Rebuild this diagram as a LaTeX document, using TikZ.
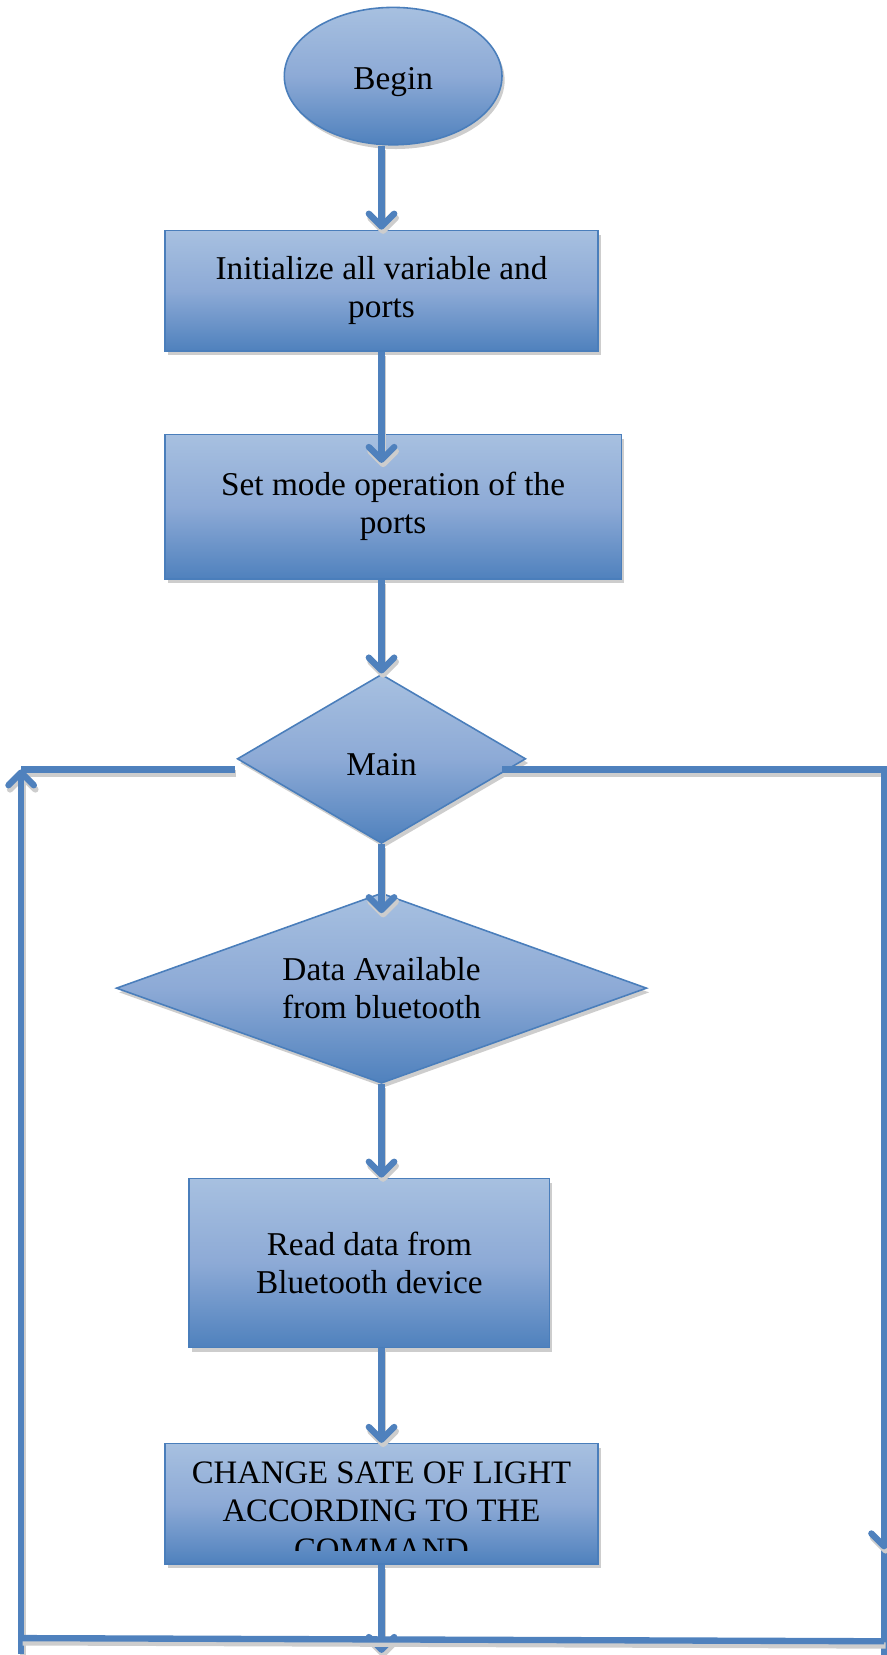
\documentclass[tikz,border=0pt]{standalone}
\usepackage{fontspec}
\setmainfont{Liberation Serif}
\usetikzlibrary{shapes.geometric,arrows.meta,shadows}
\definecolor{lineblue}{HTML}{4F81BD}
\definecolor{edgeblue}{HTML}{4A7EBB}
\definecolor{topblue}{HTML}{A7C0E0}
\definecolor{midblue}{HTML}{8DAAD6}
\definecolor{botblue}{HTML}{4F81BD}
\definecolor{shadowgray}{HTML}{CDCDCD}
\begin{document}
\begin{tikzpicture}[x=1pt,y=-1pt,
  txt/.style={font=\fontsize{31.5}{36}\selectfont, text=black, align=center,
    execute at begin node={\rule{0pt}{32pt}}},
  fillshade/.style={draw=edgeblue, line width=1.5pt, top color=topblue, bottom color=botblue, middle color=midblue,
    drop shadow={shadow xshift=2.5pt, shadow yshift=-4pt, fill=shadowgray, opacity=1}, inner sep=0pt},
  procbox/.style={fillshade, rectangle, txt},
  decbox/.style={fillshade, diamond, txt},
  termbox/.style={fillshade, ellipse, txt},
  flow/.style={draw=lineblue, line width=6pt,
    preaction={draw=shadowgray, line width=6pt, transform canvas={xshift=1.5pt, yshift=-4pt}}},
  flowarrow/.style={flow, -{Straight Barb[length=12pt,width=24pt,round]}}
]
\useasboundingbox (0,0) rectangle (839,1566);

% nodes
\node[termbox, minimum width=206pt, minimum height=130pt] (begin) at (372,72) {Begin};
\node[procbox, minimum width=410pt, minimum height=114pt] (init) at (361,275) {Initialize all variable and\\ports};
\node[procbox, minimum width=432pt, minimum height=137pt] (mode) at (372,479.5) {Set mode operation of the\\ports};
\node[decbox, shape aspect=1.7, minimum width=273pt, minimum height=160pt, execute at begin node={\rule{0pt}{27pt}}] (main) at (361,718) {Main};
\node[decbox, shape aspect=2.8, minimum width=502pt, minimum height=180pt] (data) at (361,935) {Data Available\\from bluetooth};
\node[procbox, minimum width=341pt, minimum height=160pt] (read) at (349.5,1195) {Read data from\\Bluetooth device};
\node[procbox, minimum width=410pt, minimum height=114pt, execute at begin node={}] (change) at (361,1423) {};
\begin{scope}
  \clip (156,1366) rectangle (566,1467);
  \node[txt, font=\fontsize{31}{36}\selectfont, inner sep=0pt, execute at begin node={}] (changetext) at (361,1430) {CHANGE SATE OF LIGHT\\ACCORDING TO THE\\COMMAND};
\end{scope}

% coordinates
\coordinate (modein) at (361,438);
\coordinate (datain) at (361,864);
\coordinate (changeout) at (361,1564);
\coordinate (mainleft) at (222,728);
\coordinate (lefttop) at (20,728);
\coordinate (leftbot) at (20,1565);
\coordinate (mainright) at (475,728);
\coordinate (righttop) at (836.5,728);
\coordinate (rightarrow) at (836.5,1466);
\coordinate (rightbot) at (836.5,1570);
\coordinate (bottomleft) at (20,1550);
\coordinate (bottomright) at (836.5,1553);

% connectors
\draw[flowarrow] (begin.south -| init.north) -- (init.north);
\draw[flowarrow] (init.south) -- (modein);
\draw[flowarrow] (main.north |- mode.south) -- (main.north);
\draw[flowarrow] (main.south) -- (datain);
\draw[flowarrow] (data.south) -- (data.south |- read.north);
\draw[flowarrow] (data.south |- read.south) -- (change.north);
\draw[flowarrow] (change.south) -- (changeout);

% loop lines
\draw[flow] (mainleft) -- (lefttop);
\draw[flowarrow] (leftbot) -- (lefttop);
\draw[flow] (mainright) -- (righttop) -- (rightbot);
\draw[flowarrow] (righttop) -- (rightarrow);
\draw[flow] (bottomleft) -- (bottomright);
\end{tikzpicture}
\end{document}
